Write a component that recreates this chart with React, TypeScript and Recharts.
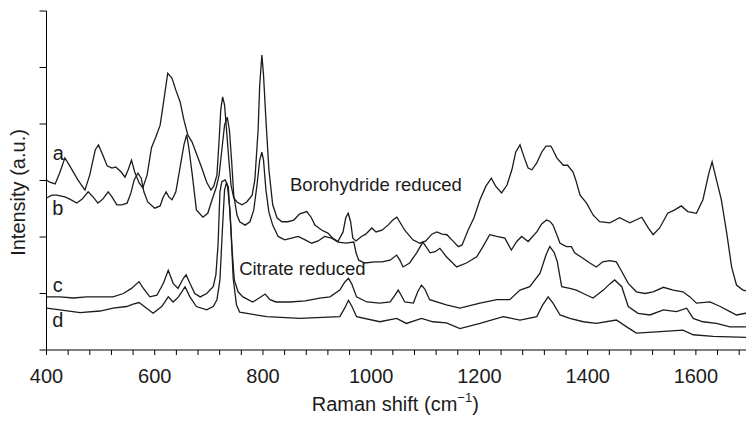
import React from 'react';
import { LineChart, Line, XAxis, YAxis, ReferenceDot } from 'recharts';

// Raman shift (cm-1) / intensity (a.u.) pairs
const spectrumA: [number, number][] = [
  [400, 3.01], [406, 2.97], [416, 2.94], [425, 3.15], [434, 3.4], [443, 3.26], [458, 3.01], [471, 2.83],
  [480, 3.1], [490, 3.54], [496, 3.63], [504, 3.45], [512, 3.26], [521, 3.22], [528, 3.24], [538, 3.15],
  [545, 3.06], [551, 3.19], [557, 3.36], [563, 3.15], [571, 2.96], [578, 2.87], [586, 3.1], [594, 3.58],
  [602, 3.77], [610, 3.98], [617, 4.43], [624, 4.9], [632, 4.81], [639, 4.6], [647, 4.39], [654, 4.07],
  [661, 3.81], [669, 3.68], [678, 3.45], [687, 3.22], [696, 2.97], [704, 2.83], [709, 2.9], [715, 3.1],
  [719, 3.72], [722, 4.25], [725.5, 4.48], [729, 4.34], [732, 3.98], [737, 3.36], [741, 2.92], [746, 2.69],
  [752, 2.62], [761, 2.57], [770, 2.62], [780, 2.74], [785, 3.01], [791, 3.89], [794, 4.69], [798, 5.22],
  [801, 4.87], [805.5, 4.07], [811, 3.19], [818, 2.57], [826, 2.34], [835, 2.27], [846, 2.27], [857, 2.3],
  [868, 2.41], [881, 2.45], [889, 2.35], [896, 2.21], [909, 2.12], [920, 2.07], [929, 1.98], [938.5, 1.92],
  [948, 2.09], [953, 2.34], [957.5, 2.42], [962, 2.27], [966, 1.98], [972, 1.93], [982, 2.01], [990, 2.05],
  [1001, 2.16], [1009, 2.09], [1020, 2.12], [1031, 2.21], [1040, 2.3], [1047.5, 2.35], [1062, 2.12],
  [1077, 1.95], [1090, 1.89], [1101, 1.93], [1112, 2.05], [1121, 2.09], [1131, 2.05], [1140, 2.04],
  [1149, 1.95], [1161, 1.83], [1168, 1.86], [1179, 2.12], [1190, 2.34], [1201, 2.66], [1212, 2.9],
  [1222, 3.04], [1230, 2.9], [1241, 2.78], [1251, 2.92], [1260, 3.19], [1267, 3.5], [1275, 3.63],
  [1283, 3.4], [1290, 3.22], [1297, 3.19], [1306, 3.31], [1315, 3.5], [1323, 3.61], [1332, 3.61],
  [1336, 3.54], [1343, 3.4], [1355, 3.27], [1363, 3.27], [1373, 3.15], [1378, 3.01], [1386, 2.74],
  [1398, 2.6], [1410, 2.39], [1422, 2.27], [1441, 2.25], [1459, 2.34], [1478, 2.25], [1500, 2.35],
  [1512, 2.16], [1521, 2.04], [1533, 2.16], [1548, 2.42], [1561, 2.48], [1573, 2.55], [1585, 2.45],
  [1601, 2.42], [1613, 2.66], [1624, 3.13], [1630, 3.33], [1638, 3.01], [1647, 2.66], [1657, 2.07],
  [1666, 1.47], [1675, 1.15], [1687, 1.06], [1700, 1.03],
];

const spectrumB: [number, number][] = [
  [400, 2.69], [410, 2.74], [419, 2.74], [434, 2.71], [443, 2.67], [456, 2.6], [466, 2.67], [477, 2.8],
  [486, 2.71], [495, 2.6], [504, 2.67], [514, 2.8], [521, 2.71], [530, 2.57], [539, 2.57], [549, 2.6],
  [556, 2.78], [562, 3.01], [569, 3.13], [575, 3.04], [580, 2.8], [587, 2.62], [600, 2.51], [610, 2.55],
  [615, 2.69], [621, 2.8], [626, 2.71], [632, 2.66], [639, 2.8], [647, 3.24], [654, 3.63], [659, 3.81],
  [663, 3.58], [669, 3.13], [677, 2.48], [689, 2.35], [698, 2.42], [706, 2.66], [714, 2.89], [719, 3.1],
  [724, 3.54], [729, 3.98], [734, 4.12], [738, 3.89], [742, 3.36], [746, 2.74], [752, 2.39], [757, 2.27],
  [767, 2.21], [776, 2.27], [783, 2.48], [789, 2.92], [794, 3.36], [798, 3.5], [801, 3.36], [805.5, 2.83],
  [811, 2.44], [818, 2.21], [828, 2.01], [840, 1.95], [853, 1.98], [865, 2.01], [878, 1.95], [890, 1.89],
  [902, 1.93], [914, 2.01], [927, 1.98], [939, 1.91], [953, 1.89], [968, 1.91], [972, 1.72], [977, 1.59],
  [988, 1.54], [1007, 1.56], [1020, 1.56], [1035, 1.59], [1047, 1.68], [1053, 1.59], [1059, 1.47],
  [1071, 1.54], [1084, 1.72], [1095.5, 1.91], [1109, 1.72], [1118, 1.74], [1127, 1.8], [1139, 1.65],
  [1158, 1.47], [1176, 1.54], [1195, 1.65], [1206, 1.82], [1219, 2.04], [1232, 2.01], [1247, 1.98],
  [1259, 1.77], [1269, 1.92], [1278, 2.01], [1290, 1.92], [1306, 2.09], [1315, 2.23], [1324, 2.3],
  [1330, 2.28], [1336, 2.21], [1343, 2.04], [1349, 1.89], [1361, 1.83], [1370, 1.83], [1376, 1.72],
  [1392, 1.62], [1404, 1.54], [1416, 1.47], [1428, 1.56], [1441, 1.58], [1453, 1.56], [1463, 1.39],
  [1475, 1.18], [1490, 1.03], [1506, 1.0], [1521, 1.03], [1540, 1.11], [1558, 1.06], [1576, 1.03],
  [1589, 0.94], [1601, 0.83], [1626, 0.85], [1645, 0.77], [1663, 0.68], [1675, 0.62], [1692, 0.65],
  [1700, 0.64],
];

const spectrumC: [number, number][] = [
  [400, 0.94], [425, 0.94], [450, 0.92], [474, 0.94], [499, 0.94], [523, 0.94], [542, 1.0], [557, 1.09],
  [571, 1.21], [579, 1.09], [591, 0.94], [604, 0.97], [616, 1.18], [625, 1.41], [634, 1.18], [643, 1.09],
  [653, 1.27], [658, 1.33], [665, 1.18], [674, 1.0], [684, 0.94], [696, 1.0], [708, 1.12], [713, 1.33],
  [717, 1.86], [720.5, 2.8], [724, 2.98], [730, 3.01], [734, 2.94], [739, 2.48], [743, 1.77], [747, 1.24],
  [754, 1.03], [763, 0.94], [781, 0.85], [793, 0.92], [804, 0.99], [813, 0.89], [824, 0.85], [850, 0.85],
  [878, 0.87], [905, 0.92], [924, 0.94], [942, 1.06], [951, 1.2], [958, 1.27], [964, 1.17], [973, 0.94],
  [992, 0.85], [1016, 0.83], [1035, 0.85], [1044, 0.97], [1050, 1.06], [1056, 0.96], [1062, 0.85],
  [1078, 0.83], [1086, 1.03], [1093, 1.15], [1099, 1.08], [1108, 0.89], [1139, 0.8], [1164, 0.74],
  [1201, 0.83], [1232, 0.89], [1256, 0.89], [1275, 1.06], [1293, 1.12], [1312, 1.36], [1323, 1.68],
  [1330, 1.83], [1338, 1.73], [1344, 1.56], [1352, 1.12], [1367, 1.09], [1379, 1.06], [1392, 1.0],
  [1410, 0.92], [1429, 1.06], [1441, 1.17], [1450, 1.24], [1463, 1.12], [1475, 0.77], [1493, 0.65],
  [1515, 0.62], [1540, 0.71], [1564, 0.68], [1583, 0.74], [1595, 0.56], [1613, 0.5], [1638, 0.47],
  [1663, 0.41], [1700, 0.41],
];

const spectrumD: [number, number][] = [
  [400, 0.74], [425, 0.71], [462, 0.66], [499, 0.69], [523, 0.74], [548, 0.77], [560, 0.81], [571, 0.84],
  [585, 0.74], [597, 0.65], [613, 0.77], [625, 0.94], [634, 0.85], [644, 0.94], [656, 1.12], [665, 0.94],
  [677, 0.77], [696, 0.71], [708, 0.77], [715, 0.89], [720.5, 1.24], [725, 2.12], [729, 2.83], [732, 2.94],
  [736, 2.89], [741, 2.09], [745, 1.27], [751, 0.8], [757, 0.67], [807, 0.59], [868, 0.56], [942, 0.59],
  [951, 0.74], [958, 0.88], [964, 0.78], [973, 0.59], [1016, 0.5], [1047, 0.56], [1065, 0.47],
  [1093, 0.56], [1114, 0.5], [1139, 0.48], [1164, 0.38], [1201, 0.47], [1244, 0.59], [1275, 0.53],
  [1306, 0.59], [1317, 0.8], [1327, 0.94], [1336, 0.83], [1349, 0.62], [1367, 0.56], [1392, 0.5],
  [1416, 0.47], [1453, 0.53], [1472, 0.41], [1490, 0.3], [1527, 0.32], [1576, 0.35], [1595, 0.27],
  [1632, 0.24], [1700, 0.22],
];

const xTicks: number[] = [];
for (let t = 400; t <= 1680; t += 40) xTicks.push(t);
const xLabelled = [400, 600, 800, 1000, 1200, 1400, 1600];
const yTicks = [0, 1, 2, 3, 4, 5, 6];

const curveTags = [
  { text: 'a', w: 422, v: 3.49 },
  { text: 'b', w: 421, v: 2.51 },
  { text: 'c', w: 421, v: 1.15 },
  { text: 'd', w: 421, v: 0.53 },
];
const noteTags = [
  { text: 'Borohydride reduced', w: 850, v: 2.92 },
  { text: 'Citrate reduced', w: 756, v: 1.45 },
];

const toRows = (s: [number, number][]) => s.map(([w, v]) => ({ w, v }));
const FONT = '"Liberation Sans", Arial, Helvetica, sans-serif';
const INK = '#1c1c1c';

const series = [spectrumA, spectrumB, spectrumC, spectrumD].map(toRows);

const tagShape = (text: string, size: number, anchor: 'start' | 'middle') => (p: any) => (
  <text x={p.cx} y={p.cy} dy="0.35em" textAnchor={anchor} fontSize={size} fontFamily={FONT} fill={INK}>
    {text}
  </text>
);

const XTitle = (props: any) => {
  const vb = props.viewBox || { x: 46.5, width: 703.5, y: 350 };
  const cx = vb.x + vb.width / 2 - 3;
  return (
    <text x={cx} y={vb.y + 61} textAnchor="middle" fontSize={20} fontFamily={FONT} fill={INK}>
      <tspan>Raman shift (cm</tspan>
      <tspan dy={-9} fontSize={13}>−1</tspan>
      <tspan dy={9}>)</tspan>
    </text>
  );
};

const YTitle = (props: any) => {
  const vb = props.viewBox || { y: 11, height: 339 };
  const cy = vb.y + vb.height / 2 + 12;
  const x = 25;
  return (
    <text
      x={x}
      y={cy}
      transform={`rotate(-90, ${x}, ${cy})`}
      textAnchor="middle"
      fontSize={20}
      fontFamily={FONT}
      fill={INK}
    >
      Intensity (a.u.)
    </text>
  );
};

export default function App() {
  return (
    <div
      style={{
        position: 'absolute',
        left: 0,
        top: 0,
        width: 746,
        height: 423,
        overflow: 'hidden',
        background: '#fff',
      }}
    >
      <LineChart width={760} height={423} margin={{ top: 11, right: 10, bottom: 0, left: 0 }}>
        <XAxis
          dataKey="w"
          type="number"
          domain={[400, 1700]}
          ticks={xTicks}
          interval={0}
          allowDataOverflow
          height={73}
          tickSize={5}
          tickMargin={14}
          stroke="#000"
          tickLine={{ stroke: '#000' }}
          axisLine={{ stroke: '#000' }}
          tick={{ fontSize: 20, fontFamily: FONT, fill: INK }}
          tickFormatter={(v: number) => (xLabelled.includes(v) ? String(v) : '')}
          label={{ content: XTitle }}
        />
        <YAxis
          type="number"
          domain={[0, 6]}
          ticks={yTicks}
          interval={0}
          width={46.5}
          tickSize={7}
          stroke="#000"
          tickLine={{ stroke: '#000' }}
          axisLine={{ stroke: '#000' }}
          tickFormatter={() => ''}
          label={{ content: YTitle }}
        />
        {series.map((rows, i) => (
          <Line
            key={i}
            data={rows}
            dataKey="v"
            type="linear"
            dot={false}
            activeDot={false}
            stroke={INK}
            strokeWidth={1.3}
            isAnimationActive={false}
          />
        ))}
        {curveTags.map((t) => (
          <ReferenceDot key={t.text} x={t.w} y={t.v} r={1} shape={tagShape(t.text, 20, 'middle')} />
        ))}
        {noteTags.map((t) => (
          <ReferenceDot key={t.text} x={t.w} y={t.v} r={1} shape={tagShape(t.text, 18.5, 'start')} />
        ))}
      </LineChart>
    </div>
  );
}
